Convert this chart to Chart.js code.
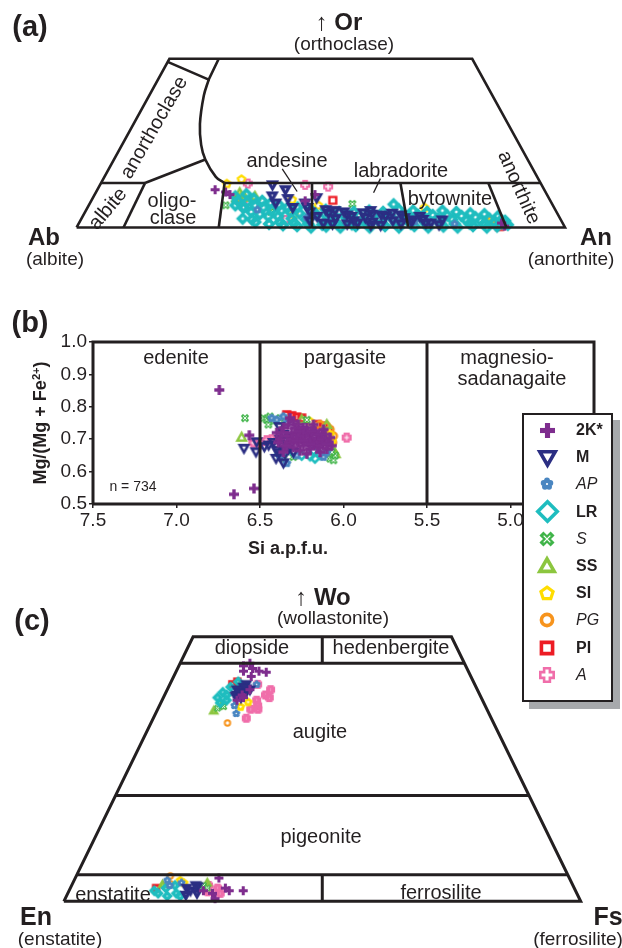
<!DOCTYPE html>
<html lang="en">
<head>
<meta charset="UTF-8">
<title>Feldspar, amphibole and pyroxene classification</title>
<style>
  body { margin: 0; background: #fff; }
  #page { position: relative; width: 622px; height: 948px; overflow: hidden;
          font-family: "Liberation Sans", Arial, sans-serif; color: #231f20; }
  #page canvas.chart { position: absolute; left: 0; }
  .lbl { position: absolute; white-space: nowrap; line-height: 1; }
  .lbl sup { font-size: 0.62em; vertical-align: 0.55em; }
  #legend { position: absolute; left: 522px; top: 413px; width: 91px; height: 289px; box-sizing: border-box;
            border: 2px solid #231f20; background: #fff; box-shadow: 7px 7px 0 #a7a9ac; z-index: 5; }
  #legend canvas { position: absolute; }
  #legend .txt { position: absolute; left: 52px; font-size: 16px; line-height: 1; transform: translateY(-50%); }
</style>
</head>
<body>
<div id="page">
  <canvas id="chartA" class="chart" width="622" height="290" style="top:0"></canvas>
  <canvas id="chartB" class="chart" width="622" height="260" style="top:300px"></canvas>
  <canvas id="chartC" class="chart" width="622" height="388" style="top:560px"></canvas>
  <div id="legend"></div>
</div>

<script src="https://cdn.jsdelivr.net/npm/chart.js"></script>
<script>
  // ---- series (legend order) ----
  const seriesKeys   = ['2K', 'M', 'AP', 'LR', 'S', 'SS', 'SI', 'PG', 'PI', 'A'];
  const seriesLabels = ['2K*', 'M', 'AP', 'LR', 'S', 'SS', 'SI', 'PG', 'PI', 'A'];
  const seriesItalic = [false, false, true, false, true, false, false, true, false, true];

  // ---- (a) feldspar, [An %, Or %] ----
  const fsp2K = [[24.1,8.5],[26.5,8],[27.7,7.4],[43.8,6],[45.1,7.4],[86.5,1],[87.5,0.3]];
  const fspM  = [[35.3,9.6],[38.5,8.5],[36.5,7.1],[45.8,6.7],[58.3,3.8],[38,5.5],[40,6.5],[42,4.5],[44,5.5],
                 [46,3.5],[48,2.5],[50,3.2],[52,2],[54,2.8],[56,1.5],[58,2.2],[60,1.2],[62,2.5],[64,1.5],[66,2.2],
                 [68,1.2],[70,1.8],[72,1],[74,1.7],[73.9,0.6],[67.7,1.7],[50,1],[55,0.8],[60,0.5],[63,3.2],[57,3.3],[47,1.5],
                 [45,4.5],[49,4],[51,3.8],[53,3.5],[55,2.5],[59,3],[61,2.8],[65,2.8],[69,2.5],[71,1],[57,1],[52,0.8],
                 [62,0.5],[66,0.8]];
  const fspAP = [[35,4],[46,2.2],[68.6,1.3],[72,0.5],[77,0.8]];
  const fspLR = [[29,7],[31,7.5],[33,6.5],[35,6],[37,5.5],[39,5],[41,4.5],[43,4.5],[46,4],[49,4],[52,3.5],[55,3.5],
                 [58,3.8],[61,3.5],[64,4],[67,3.8],[70,3.5],[73,3.8],[76,3.5],[79,3.2],[82,3],[85,2.5],[87,1.5],
                 [30,5],[32,4.5],[34,3.5],[36,3],[38,2.5],[40,2.5],[43,2],[46,1.8],[49,2],[52,1.5],[55,1.8],[58,1.5],
                 [61,2],[64,1.8],[67,2],[70,1.8],[73,2],[76,1.8],[79,1.6],[82,1.5],[85,1.2],[88,0.6],
                 [33,2],[36,1.2],[39,0.8],[42,0.5],[45,0.3],[48,0],[51,0.2],[54,0],[57,0.3],[60,0],[63,0.3],[66,0],
                 [69,0.3],[72,0],[75,0.2],[78,0],[81,0.3],[84,0],[86,0.2],[31.8,4.5],[62.3,5.2],
                 [30,6],[32,5.8],[34,5],[36,4.5],[38,4],[40,3.8],[42,3.5],[44,3.2],[47.5,3],[50.5,2.8],[53.5,2.6],
                 [56.5,2.7],[59.5,2.8],[62.5,2.8],[65.5,3],[68.5,2.8],[71.5,2.8],[74.5,2.7],[77.5,2.6],[80.5,2.3],
                 [83.5,2],[86,1.5],[35,1.8],[41,1.2],[44,1],[47,0.8],[50,0.6],[53,0.8],[56,0.7],[59,0.9],[62,0.8],
                 [65,0.9],[68,0.8],[71,0.9],[74,0.9],[77,0.8],[80,0.9],[83,0.8],[87,0.8]];
  const fspS  = [[28,5],[29.2,6.3],[38,3.5],[53.8,5.3]];
  const fspSS = [[29.5,7.8],[31,6.8],[33,7]];
  const fspSI = [[25.8,9.9],[28.3,10.9],[30,7],[41,6.3],[43,3],[47,5],[69,4.5],[84,1]];
  const fspPG = [[84,1.6],[85,0.8]];
  const fspPI = [[49.4,6.1],[85.5,1],[86.5,0.2]];
  const fspA  = [[30.1,9.9],[31,6],[32,4.5],[41.9,1.7],[42,9.6],[46.9,9.2]];

  // feldspar field boundaries, [An %, Or %]
  const fspOutline   = [[0,0],[100,0],[62,38],[0,38],[0,0]];
  const fspOr10Left  = [[0,10],[9.0,10]];
  const fspOr10Right = [[25.3,10],[90,10]];
  const fspPlagBounds = [[[9.6,0],[9.0,10]], [[29.1,0],[25.3,10]], [[48.2,0],[43.2,10]],
                         [[67.9,0],[61.3,10]], [[88,0],[79.3,10]]];
  const fspAnorthTop = [[0,37.3],[10.4,33.3],[10.1,38]];
  const fspArc       = [[10.4,33.3],[11.2,29.7],[13.6,23.3],[16.2,18.6],[18.7,15.3],[22.8,11.4],[25.3,10]];
  const fspDiagonal  = [[9.0,10],[18.7,15.3]];
  const fspLeaders   = [[[35.5,13.2],[41.1,8.1]], [[56.7,11],[56.9,7.8]]];

  // ---- (b) amphibole, [Si apfu, Mg/(Mg+Fe2+)] ----
  const amp2K = [[6.40,0.72],[6.38,0.70],[6.36,0.735],[6.35,0.68],[6.34,0.71],[6.33,0.745],[6.32,0.69],[6.31,0.72],
                 [6.30,0.675],[6.30,0.70],[6.29,0.735],[6.28,0.715],[6.27,0.69],[6.26,0.665],[6.25,0.725],[6.25,0.70],
                 [6.24,0.68],[6.23,0.71],[6.22,0.735],[6.21,0.69],[6.20,0.67],[6.20,0.715],[6.19,0.70],[6.18,0.685],
                 [6.17,0.725],[6.16,0.705],[6.15,0.675],[6.14,0.695],[6.13,0.715],[6.12,0.685],[6.11,0.70],[6.10,0.67],
                 [6.09,0.69],[6.08,0.705],[6.07,0.68],[6.32,0.765],[6.30,0.755],[6.27,0.745],[6.36,0.66],[6.22,0.655],
                 [6.14,0.66],[6.18,0.745],[6.12,0.73],[6.564,0.712],[6.744,0.852],[6.656,0.530],[6.536,0.548],
                 [6.39,0.69],[6.37,0.72],[6.34,0.68],[6.31,0.70],[6.28,0.695],[6.26,0.71],[6.24,0.695],[6.22,0.72],
                 [6.19,0.725],[6.17,0.69],[6.15,0.715],[6.13,0.70],[6.11,0.715],[6.10,0.685],[6.27,0.725],[6.24,0.735],
                 [6.16,0.68],[6.20,0.685]];
  const ampM  = [[6.596,0.672],[6.524,0.661],[6.52,0.692],[6.474,0.677],[6.448,0.682],[6.404,0.641],[6.386,0.658],
                 [6.36,0.627],[6.384,0.739],[6.42,0.69],[6.40,0.665],[6.38,0.70],[6.36,0.715],[6.34,0.695],[6.37,0.68],
                 [6.33,0.67],[6.35,0.655],[6.30,0.66],[6.32,0.705]];
  const ampAP = [[6.43,0.765],[6.40,0.76],[6.36,0.77],[6.34,0.75],[6.34,0.626],[6.28,0.65],[6.12,0.645],[6.10,0.66],[6.38,0.645]];
  const ampLR = [[6.171,0.641],[6.38,0.655],[6.30,0.66],[6.25,0.65],[6.20,0.648],[6.14,0.652],[6.34,0.665],[6.18,0.665]];
  const ampS  = [[6.59,0.765],[6.48,0.765],[6.46,0.76],[6.44,0.77],[6.42,0.755],[6.38,0.765],[6.45,0.745],[6.08,0.64],
                 [6.06,0.635],[6.05,0.65],[6.07,0.66],[6.30,0.645],[6.36,0.64],[6.22,0.76]];
  const ampSS = [[6.61,0.706],[6.06,0.665],[6.05,0.655],[6.25,0.76],[6.10,0.745]];
  const ampSI = [[6.08,0.715],[6.20,0.755],[6.07,0.695]];
  const ampPG = [[6.08,0.73],[6.06,0.71],[6.10,0.74],[6.065,0.69],[6.14,0.745]];
  const ampPI = [[6.34,0.775],[6.31,0.772],[6.28,0.768],[6.25,0.765],[6.16,0.745],[6.12,0.74],[6.09,0.725]];
  const ampA  = [[6.54,0.689],[6.50,0.688],[6.46,0.697],[5.981,0.705],[6.43,0.70]];

  const ampSiTicks = [7.5, 7.0, 6.5, 6.0, 5.5, 5.0, 4.5];
  const ampMgTicks = [0.5, 0.6, 0.7, 0.8, 0.9, 1.0];
  const ampFrame    = [[7.5,0.5],[7.5,1.0],[4.5,1.0],[4.5,0.5],[7.5,0.5]];
  const ampDividers = [[[6.5,0.5],[6.5,1.0]], [[5.5,0.5],[5.5,1.0]]];

  // ---- (c) pyroxene, [Fs %, Wo %] ----
  const px2K = [[12.5,44.5],[13.5,45],[14.5,44],[16,43.5],[17.5,43.3],[13,43.5],[15,42.5],[15,39],[16,40],[14.5,38],
                [15.5,38.5],[27.8,4.4],[33.7,2],[29,0.5],[30,2.5],[31,2],[28,1.5],[26,2]];
  const pxM  = [[13.5,40],[14.5,40.5],[15.5,39.5],[14,39],[15,38.5],[13.8,38.8],[16,40],[14.8,41],[14.2,39.8],
                [15.2,40.2],[14.6,39.2],[22.5,2.5],[23.5,2],[24.5,2.8],[25,1.5],[23,1.2],[24,3]];
  const pxAP = [[15.6,35.5],[14.5,37],[16.8,41],[18,4],[19,3],[21,3.5]];
  const pxLR = [[10.5,38.5],[11,39.5],[12,40.5],[11.5,37.5],[12.5,38],[13,41.5],[12,39],
                [16.5,2],[17.5,1.5],[18.5,2.5],[19.5,1],[20,3],[21,1.5],[22,1]];
  const pxS  = [[11.5,36.5],[12.5,36.8],[25.5,3],[26.5,2.5]];
  const pxSS = [[11,36],[12,37],[17.5,3.2],[26,3.5]];
  const pxSI = [[16.8,37.7],[15.8,36.8],[20.5,4],[21.5,3.5]];
  const pxPG = [[14.8,33.7],[18.2,4.8],[19,3.3]];
  const pxPI = [[12.1,41],[12.8,41.5],[16.6,2.5]];
  const pxA  = [[18.3,38],[19.5,39],[20.5,38.5],[19,37],[18,36.3],[18,34.6],[19.4,36.3],[17,41],[20,40],
                [27,1.8],[28.5,2.5],[29.5,1.5],[26.5,3]];

  const pxOutline   = [[0,0],[100,0],[50,50],[0,50],[0,0]];
  const pxWo45      = [[0,45],[55,45]];
  const pxWo20      = [[0,20],[80,20]];
  const pxWo5       = [[0,5],[95,5]];
  const pxDivTop    = [[25,50],[27.5,45]];
  const pxDivBottom = [[50,0],[47.5,5]];

  // ---------------------------------------------------------------
  const INK = '#231f20';
  const colors = { '2K':'#7e2d8e', M:'#2b2e83', AP:'#4a86c1', LR:'#1fbdbf', S:'#40b449',
                   SS:'#8cc63f', SI:'#ffdd00', PG:'#f7941d', PI:'#ed1c24', A:'#f06eaa' };
  const shapes = { '2K':'plus', M:'triDown', AP:'flower', LR:'diamond', S:'xcross',
                   SS:'triUp', SI:'pentagon', PG:'circle', PI:'square', A:'plusOpen' };
  // [size, line width] per panel
  const markerSizes = {
    legend: { plus:[15], triDown:[19,3.6], flower:[14], diamond:[23,3.6], xcross:[18], triUp:[18,3.6],
              pentagon:[16,3.2], circle:[16,3.6], square:[16,3.6], plusOpen:[16,2.6] },
    a: { plus:[9], triDown:[11,3.2], flower:[9], diamond:[12,3.6], xcross:[10], triUp:[11,2.6],
         pentagon:[10,2.4], circle:[9,2.2], square:[10,2.4], plusOpen:[10,2] },
    b: { plus:[10], triDown:[11,2.6], flower:[10], diamond:[11,2.6], xcross:[10], triUp:[11,2.4],
         pentagon:[10,2.4], circle:[10,2.6], square:[10,2.6], plusOpen:[10,2.6] },
    c: { plus:[9], triDown:[10,3.4], flower:[9], diamond:[10,3.4], xcross:[9], triUp:[9,3],
         pentagon:[9,3], circle:[8,2], square:[9,3], plusOpen:[9,3] }
  };

  function makeMarker(shape, color, size, lw) {
    const c = document.createElement('canvas');
    const dim = Math.ceil(size) + 4;
    c.width = c.height = dim;
    const g = c.getContext('2d');
    g.translate(dim / 2, dim / 2);
    g.fillStyle = g.strokeStyle = color;
    g.lineWidth = lw || 1;
    g.lineJoin = 'miter';
    const r = size / 2, R = r - (lw || 0) / 2;
    const poly = pts => { g.beginPath(); pts.forEach(([x, y], i) => i ? g.lineTo(x, y) : g.moveTo(x, y)); g.closePath(); };
    switch (shape) {
      case 'plus': {
        const a = r * 0.34;
        g.fillRect(-a, -r, 2 * a, 2 * r); g.fillRect(-r, -a, 2 * r, 2 * a); break;
      }
      case 'plusOpen': {
        const a = r * 0.36;
        poly([[-a,-R],[a,-R],[a,-a],[R,-a],[R,a],[a,a],[a,R],[-a,R],[-a,a],[-R,a],[-R,-a],[-a,-a]]); g.stroke(); break;
      }
      case 'triDown': poly([[-R,-R*0.75],[R,-R*0.75],[0,R]]); g.stroke(); break;
      case 'triUp':   poly([[-R,R*0.75],[R,R*0.75],[0,-R]]); g.stroke(); break;
      case 'diamond': poly([[0,-R],[R,0],[0,R],[-R,0]]); g.stroke(); break;
      case 'square':  { const q = R * 0.9; poly([[-q,-q],[q,-q],[q,q],[-q,q]]); g.stroke(); break; }
      case 'circle':  g.beginPath(); g.arc(0, 0, R * 0.9, 0, Math.PI * 2); g.stroke(); break;
      case 'pentagon': {
        const p = [];
        for (let k = 0; k < 5; k++) { const t = -Math.PI / 2 + k * 2 * Math.PI / 5; p.push([R * Math.cos(t), R * Math.sin(t) + R * 0.08]); }
        poly(p); g.stroke(); break;
      }
      case 'flower': {
        for (let k = 0; k < 5; k++) {
          const t = -Math.PI / 2 + k * 2 * Math.PI / 5;
          g.beginPath(); g.arc(r * 0.5 * Math.cos(t), r * 0.5 * Math.sin(t), r * 0.42, 0, Math.PI * 2); g.fill();
        }
        g.beginPath(); g.arc(0, 0, r * 0.5, 0, Math.PI * 2); g.fill();
        g.fillStyle = '#fff'; g.beginPath(); g.arc(0, 0, r * 0.16, 0, Math.PI * 2); g.fill();
        break;
      }
      case 'xcross': {
        const e = r * 0.62;
        g.lineWidth = r * 0.62; g.lineCap = 'butt';
        g.beginPath(); g.moveTo(-e, -e); g.lineTo(e, e); g.moveTo(e, -e); g.lineTo(-e, e); g.stroke();
        g.strokeStyle = '#fff'; g.lineWidth = Math.max(1, r * 0.14);
        const f = e * 0.6;
        g.beginPath(); g.moveTo(-f, -f); g.lineTo(f, f); g.moveTo(f, -f); g.lineTo(-f, f); g.stroke();
        break;
      }
    }
    return c;
  }

  function markerFor(panel, key) {
    const [s, lw] = markerSizes[panel][shapes[key]];
    return makeMarker(shapes[key], colors[key], s, lw);
  }

  // ternary: first component along the base, second one is the apex
  const tern = ([base, apex]) => ({ x: base + apex / 2, y: apex });
  const xy = ([x, y]) => ({ x, y });

  function lineSet(points, conv, width, tension) {
    return { data: points.map(conv), showLine: true, pointRadius: 0, borderColor: INK, borderWidth: width,
             borderCapStyle: 'butt', borderJoinStyle: 'miter', tension: tension || 0, fill: false, order: 0, clip: false };
  }

  function pointSets(panel, byKey, conv) {
    return seriesKeys.map((k, i) => ({
      label: seriesLabels[i], data: byKey[k].map(conv), showLine: false,
      pointStyle: markerFor(panel, k), pointRadius: 5, order: i + 1, clip: false
    }));
  }

  const baseOpts = {
    responsive: false, animation: false, events: [],
    plugins: { legend: { display: false }, tooltip: { enabled: false } }
  };

  // ---- chart (a) ----
  const fspData = { '2K':fsp2K, M:fspM, AP:fspAP, LR:fspLR, S:fspS, SS:fspSS, SI:fspSI, PG:fspPG, PI:fspPI, A:fspA };
  new Chart(document.getElementById('chartA'), {
    type: 'scatter',
    data: { datasets: [
      lineSet(fspOutline, tern, 2.6),
      lineSet(fspOr10Left, tern, 2.6),
      lineSet(fspOr10Right, tern, 2.6),
      ...fspPlagBounds.map(l => lineSet(l, tern, 2.6)),
      lineSet(fspAnorthTop, tern, 2.6),
      lineSet(fspArc, tern, 2.6, 0.4),
      lineSet(fspDiagonal, tern, 2.6),
      ...fspLeaders.map(l => lineSet(l, tern, 1.3)),
      ...pointSets('a', fspData, tern)
    ] },
    options: { ...baseOpts, layout: { padding: 0 },
      scales: { x: { type: 'linear', display: false, min: -14.458, max: 110.44 },
                y: { type: 'linear', display: false, min: -12.74, max: 49.89 } } }
  });

  // ---- chart (b) ----
  const ampData = { '2K':amp2K, M:ampM, AP:ampAP, LR:ampLR, S:ampS, SS:ampSS, SI:ampSI, PG:ampPG, PI:ampPI, A:ampA };
  const tickFont = { family: '"Liberation Sans", Arial, sans-serif', size: 19 };
  new Chart(document.getElementById('chartB'), {
    type: 'scatter',
    data: { datasets: [
      lineSet(ampFrame, xy, 3),
      ...ampDividers.map(l => lineSet(l, xy, 3)),
      ...pointSets('b', ampData, xy)
    ] },
    options: { ...baseOpts,
      layout: { padding: { left: 0, right: 28, top: 42, bottom: 0 } },
      scales: {
        x: { type: 'linear', reverse: true, min: 4.5, max: 7.5,
             afterBuildTicks: s => { s.ticks = ampSiTicks.map(v => ({ value: v })); },
             afterFit: s => { s.height = 56; },
             ticks: { callback: v => v.toFixed(1), font: tickFont, color: INK, padding: 1, maxRotation: 0, autoSkip: false },
             grid: { drawOnChartArea: false, drawTicks: true, tickLength: 4, color: INK, lineWidth: 1.5 },
             border: { display: false } },
        y: { type: 'linear', min: 0.5, max: 1.0,
             afterBuildTicks: s => { s.ticks = ampMgTicks.map(v => ({ value: v })); },
             afterFit: s => { s.width = 93; },
             ticks: { callback: v => v.toFixed(1), font: tickFont, color: INK, padding: 2, autoSkip: false },
             grid: { drawOnChartArea: false, drawTicks: true, tickLength: 4, color: INK, lineWidth: 1.5 },
             border: { display: false } }
      } }
  });

  // ---- chart (c) ----
  const pxData = { '2K':px2K, M:pxM, AP:pxAP, LR:pxLR, S:pxS, SS:pxSS, SI:pxSI, PG:pxPG, PI:pxPI, A:pxA };
  new Chart(document.getElementById('chartC'), {
    type: 'scatter',
    data: { datasets: [
      lineSet(pxOutline, tern, 3),
      lineSet(pxWo45, tern, 3),
      lineSet(pxWo20, tern, 3),
      lineSet(pxWo5, tern, 3),
      lineSet(pxDivTop, tern, 3),
      lineSet(pxDivBottom, tern, 3),
      ...pointSets('c', pxData, tern)
    ] },
    options: { ...baseOpts, layout: { padding: 0 },
      scales: { x: { type: 'linear', display: false, min: -11.195, max: 106.83 },
                y: { type: 'linear', display: false, min: -7.69, max: 63.37 } } }
  });

  // ---- legend ----
  const legend = document.getElementById('legend');
  seriesKeys.forEach((k, i) => {
    const cy = 15 + 27.2 * i;
    const m = markerFor('legend', k);
    m.style.left = (23 - m.width / 2) + 'px';
    m.style.top = (cy - m.height / 2) + 'px';
    legend.appendChild(m);
    const t = document.createElement('div');
    t.className = 'txt';
    t.textContent = seriesLabels[i];
    t.style.top = cy + 'px';
    if (seriesItalic[i]) t.style.fontStyle = 'italic'; else t.style.fontWeight = 'bold';
    legend.appendChild(t);
  });

  // ---- text ----
  const page = document.getElementById('page');
  function label(html, x, y, size, bold, rot) {
    const d = document.createElement('div');
    d.className = 'lbl';
    d.innerHTML = html;
    d.style.left = x + 'px';
    d.style.top = y + 'px';
    d.style.fontSize = size + 'px';
    if (bold) d.style.fontWeight = 'bold';
    d.style.transform = 'translate(-50%,-50%) rotate(' + (rot || 0) + 'deg)';
    page.appendChild(d);
  }
  const arrow = '<span style="font-weight:normal">\u2191</span> ';

  // (a)
  label('(a)', 30, 26, 29, true);
  label(arrow + 'Or', 339, 22, 24, true);
  label('(orthoclase)', 344, 43, 19);
  label('Ab', 44, 237, 24, true);
  label('(albite)', 55, 258, 19);
  label('An', 596, 237, 24, true);
  label('(anorthite)', 571, 258, 19);
  label('anorthoclase', 153, 127, 20, false, -60);
  label('albite', 107, 208, 20, false, -50);
  label('oligo-', 172, 200, 20);
  label('clase', 173, 217, 20);
  label('andesine', 287, 160, 20);
  label('labradorite', 401, 170, 20);
  label('bytownite', 450, 198, 20);
  label('anorthite', 520, 187, 20, false, 66);

  // (b)
  label('(b)', 30, 322, 29, true);
  label('Mg/(Mg + Fe<sup>2+</sup>)', 40, 423, 18, true, -90);
  label('Si a.p.f.u.', 288, 548, 18, true);
  label('edenite', 176, 357, 20);
  label('pargasite', 345, 357, 20);
  label('magnesio-', 507, 357, 20);
  label('sadanagaite', 512, 378, 20);
  label('n = 734', 133, 486, 14);

  // (c)
  label('(c)', 32, 620, 29, true);
  label(arrow + 'Wo', 323, 597, 24, true);
  label('(wollastonite)', 333, 617, 19);
  label('diopside', 252, 647, 20);
  label('hedenbergite', 391, 647, 20);
  label('augite', 320, 731, 20);
  label('pigeonite', 321, 836, 20);
  label('enstatite', 113, 894, 20);
  label('ferrosilite', 441, 892, 20);
  label('En', 36, 916, 25, true);
  label('(enstatite)', 60, 938, 19);
  label('Fs', 608, 916, 25, true);
  label('(ferrosilite)', 578, 938, 19);
</script>
</body>
</html>
